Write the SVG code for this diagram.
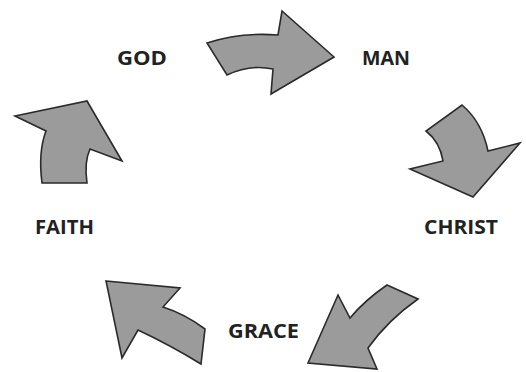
<svg xmlns="http://www.w3.org/2000/svg" width="526" height="372" viewBox="0 0 526 372">
<style>
.arr{fill:#9b9b9b;stroke:#2a2a2a;stroke-width:1.6;stroke-linejoin:miter}
.lbl{font-family:"Open Sans","DejaVu Sans",sans-serif;font-weight:bold;font-size:19px;fill:#222}
</style>
<rect width="526" height="372" fill="#fff"/>
<g id="connectors">
<path class="arr" d="M207,43 Q240,32 278,35 L282,11 L334,57 L271,94 L273,69 Q250,64 227,75 Z"/>
<path class="arr" d="M462,105 Q482,122 488,151 L520,143 L473,197 L410,169 L443,161 Q440,142 426,131 Z"/>
<path class="arr" d="M387,285 L418,299 Q388,320 368,348 L377,369 L308,363 L338,295 L350,318 Q365,300 387,285 Z"/>
<path class="arr" d="M106,281 L180,288 L163,307 Q185,314 205,329 L201,364 Q170,345 138,330 L122,358 Z"/>
<path class="arr" d="M15,116 L87,101 L122,161 L90,149 Q84,162 87,183 L42,183 Q38,152 46,131 Z"/>
</g>
<g id="god"><text class="lbl" x="117" y="65" textLength="50" lengthAdjust="spacingAndGlyphs">GOD</text></g>
<g id="man"><text class="lbl" x="362" y="65" textLength="48" lengthAdjust="spacingAndGlyphs">MAN</text></g>
<g id="christ"><text class="lbl" x="424" y="234" textLength="74" lengthAdjust="spacingAndGlyphs">CHRIST</text></g>
<g id="grace"><text class="lbl" x="228" y="338" textLength="71" lengthAdjust="spacingAndGlyphs">GRACE</text></g>
<g id="faith"><text class="lbl" x="35" y="234" textLength="59" lengthAdjust="spacingAndGlyphs">FAITH</text></g>
</svg>
